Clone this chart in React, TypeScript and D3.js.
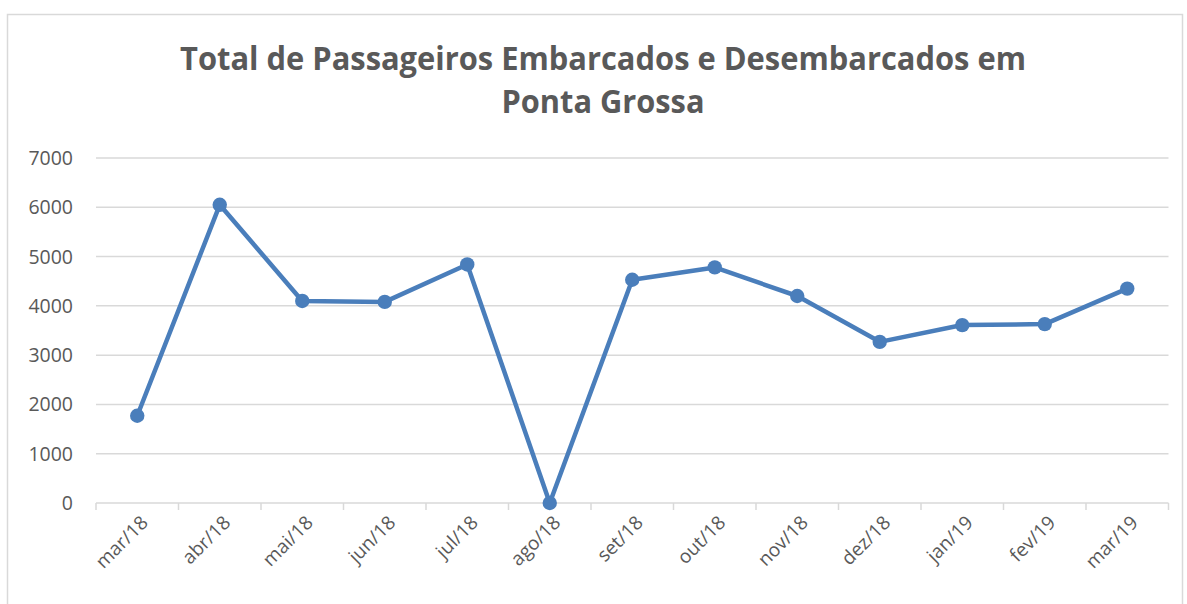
import React from "react";
import * as d3 from "d3";

const categories = ["mar/18","abr/18","mai/18","jun/18","jul/18","ago/18","set/18","out/18","nov/18","dez/18","jan/19","fev/19","mar/19"];
const values = [1770, 6050, 4100, 4080, 4840, 0, 4530, 4780, 4200, 3270, 3610, 3630, 4350];
const yTicks = [0, 1000, 2000, 3000, 4000, 5000, 6000, 7000];
const titleLines = ["Total de Passageiros Embarcados e Desembarcados em", "Ponta Grossa"];

export default function App() {
  const W = 1187, H = 604;
  const left = 96, right = 1168.5, top = 158, bottom = 503;
  const x = d3.scaleBand<string>().domain(categories).range([left, right]);
  const y = d3.scaleLinear().domain([0, 7000]).range([bottom, top]);
  const line = d3.line<number>()
    .x((_, i) => (x(categories[i]) as number) + x.bandwidth() / 2)
    .y(d => y(d));
  const font = "'Open Sans', 'Liberation Sans', sans-serif";
  const grey = "#595959";
  const color = "#4a7ebb";
  return (
    <svg width={W} height={H} style={{ position: "absolute", left: 0, top: 0 }}>
      <rect x={7.5} y={14.5} width={1175} height={600} fill="#fff" stroke="#d9d9d9" strokeWidth={1.5} />
      {titleLines.map((t, i) => (
        <text key={i} x={603} y={70 + i * 43} textAnchor="middle" fontFamily={font} fontWeight="bold" fontSize={32} fill={grey}
          textLength={i === 0 ? 846 : 203} lengthAdjust="spacingAndGlyphs">{t}</text>
      ))}
      {yTicks.map(t => (
        <g key={t}>
          {t > 0 && <line x1={left} x2={right} y1={y(t)} y2={y(t)} stroke="#d9d9d9" strokeWidth={1.5} />}
          <text x={73} y={y(t)} dy="0.36em" textAnchor="end" fontFamily={font} fontSize={19.5} fill={grey}>{t}</text>
        </g>
      ))}
      <line x1={left} x2={right} y1={bottom} y2={bottom} stroke="#d9d9d9" strokeWidth={1.5} />
      {categories.map((c, i) => (
        <line key={"t" + c} x1={x(c) as number} x2={x(c) as number} y1={bottom} y2={bottom + 7} stroke="#d9d9d9" strokeWidth={1.5} />
      ))}
      <line x1={right} x2={right} y1={bottom} y2={bottom + 7} stroke="#d9d9d9" strokeWidth={1.5} />
      {categories.map(c => {
        const cx = (x(c) as number) + x.bandwidth() / 2 + 7;
        const cy = 519;
        return (
          <text key={"l" + c} transform={`translate(${cx},${cy}) rotate(-45)`} textAnchor="end" dy="0.36em" fontFamily={font} fontSize={19} fill={grey}>{c}</text>
        );
      })}
      <path d={line(values) || ""} fill="none" stroke={color} strokeWidth={4.5} strokeLinejoin="round" />
      {values.map((v, i) => (
        <circle key={i} cx={(x(categories[i]) as number) + x.bandwidth() / 2} cy={y(v)} r={7.2} fill={color} />
      ))}
    </svg>
  );
}
